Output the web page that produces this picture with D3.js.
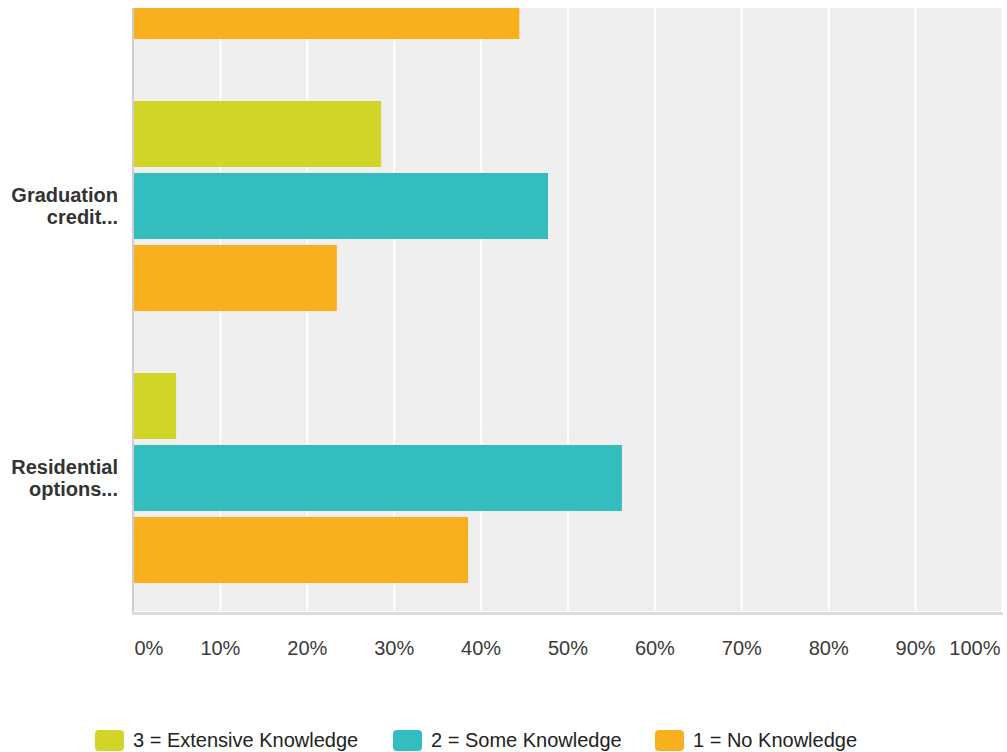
<!DOCTYPE html>
<meta charset="utf-8">
<head>
  <style>
    html, body { margin: 0; padding: 0; background: #fff; }
    svg { display: block; font-family: "Liberation Sans", Arial, sans-serif; }
    .tick-label { font-size: 20px; fill: #3a3a3a; }
    .cat-label { font-size: 20px; font-weight: bold; fill: #333; }
    .legend-label { font-size: 20px; fill: #222; }
  </style>
</head>
<script src="https://cdn.jsdelivr.net/npm/d3@7"></script>
<body>
<script>
  // the picture is a crop: the first category sits above the top edge,
  // only its last bar shows, its label and other bars are off-canvas
  var categories = ["", "Graduation credit...", "Residential options..."];
  var categoryLines = [[], ["Graduation", "credit..."], ["Residential", "options..."]];
  var seriesNames = ["3 = Extensive Knowledge", "2 = Some Knowledge", "1 = No Knowledge"];
  var seriesColors = ["#d0d528", "#34bdbf", "#f8b01e"];
  var extensive = [null, 0.285, 0.049];
  var some = [null, 0.477, 0.562];
  var none = [0.444, 0.234, 0.385];
  var tickValues = [0, 0.1, 0.2, 0.3, 0.4, 0.5, 0.6, 0.7, 0.8, 0.9, 1];
  var tickLabels = ["0%", "10%", "20%", "30%", "40%", "50%", "60%", "70%", "80%", "90%", "100%"];

  var series = [extensive, some, none];

  var width = 1007, height = 752;
  var plotLeft = 133.5, plotRight = 1002.5, plotTop = 8, plotBottom = 611;
  var step = 272;

  var svg = d3.select("body").append("svg")
    .attr("width", width)
    .attr("height", height);

  var x = d3.scaleLinear().domain([0, 1]).range([plotLeft, plotRight]);

  var y = d3.scaleBand()
    .domain(categories)
    .range([614 - categories.length * step, 614])
    .paddingInner(62 / step)
    .paddingOuter(31 / step);

  var ySub = d3.scaleBand()
    .domain(d3.range(series.length))
    .range([0, y.bandwidth()])
    .paddingInner(6 / 72);

  svg.append("clipPath").attr("id", "plotClip")
    .append("rect")
    .attr("x", 132).attr("y", plotTop)
    .attr("width", 1004 - 132).attr("height", plotBottom - plotTop);

  var plot = svg.append("g").attr("clip-path", "url(#plotClip)");

  plot.append("rect")
    .attr("x", 132).attr("y", plotTop)
    .attr("width", 1003 - 132).attr("height", plotBottom - plotTop)
    .attr("fill", "#efefef");

  // vertical gridlines
  plot.selectAll(".grid")
    .data(tickValues.slice(1))
    .enter().append("line")
    .attr("x1", function(d) { return x(d); })
    .attr("x2", function(d) { return x(d); })
    .attr("y1", plotTop).attr("y2", plotBottom)
    .attr("stroke", "#fff")
    .attr("stroke-width", 2);

  // bars
  categories.forEach(function(cat, ci) {
    var g = plot.append("g").attr("transform", "translate(0," + y(cat) + ")");
    series.forEach(function(vals, si) {
      if (vals[ci] == null) return;
      g.append("rect")
        .attr("x", x(0))
        .attr("y", ySub(si))
        .attr("width", x(vals[ci]) - x(0))
        .attr("height", ySub.bandwidth())
        .attr("fill", seriesColors[si]);
    });
  });

  // axis lines
  svg.append("line")
    .attr("x1", 133).attr("x2", 133)
    .attr("y1", plotTop).attr("y2", 615)
    .attr("stroke", "#cfcfcf").attr("stroke-width", 2);
  svg.append("line")
    .attr("x1", 132).attr("x2", 1003)
    .attr("y1", 613.5).attr("y2", 613.5)
    .attr("stroke", "#dcdcdc").attr("stroke-width", 3);

  // x tick labels (first and last kept inside the plot)
  svg.selectAll(".tick-label")
    .data(tickValues)
    .enter().append("text")
    .attr("class", "tick-label")
    .attr("x", function(d, i) {
      if (i == 0) return x(d) + 1;
      if (i == tickValues.length - 1) return x(d) - 2;
      return x(d);
    })
    .attr("y", 655)
    .attr("text-anchor", function(d, i) {
      if (i == 0) return "start";
      if (i == tickValues.length - 1) return "end";
      return "middle";
    })
    .text(function(d, i) { return tickLabels[i]; });

  // category labels, centred on the middle bar
  categories.forEach(function(cat, ci) {
    var lines = categoryLines[ci];
    if (!lines.length) return;
    var cy = y(cat) + ySub(1) + ySub.bandwidth() / 2;
    var t = svg.append("text")
      .attr("class", "cat-label")
      .attr("text-anchor", "end")
      .attr("x", 118)
      .attr("y", cy - 4);
    lines.forEach(function(l, li) {
      t.append("tspan")
        .attr("x", 118)
        .attr("dy", li == 0 ? 0 : 22)
        .text(l);
    });
  });

  // legend
  var legendX = [95, 393, 655];
  var legend = svg.append("g");
  seriesNames.forEach(function(name, i) {
    legend.append("rect")
      .attr("x", legendX[i]).attr("y", 730)
      .attr("width", 29).attr("height", 21)
      .attr("rx", 4).attr("ry", 4)
      .attr("fill", seriesColors[i]);
    legend.append("text")
      .attr("class", "legend-label")
      .attr("x", legendX[i] + 38)
      .attr("y", 747)
      .text(name);
  });
</script>
</body>
